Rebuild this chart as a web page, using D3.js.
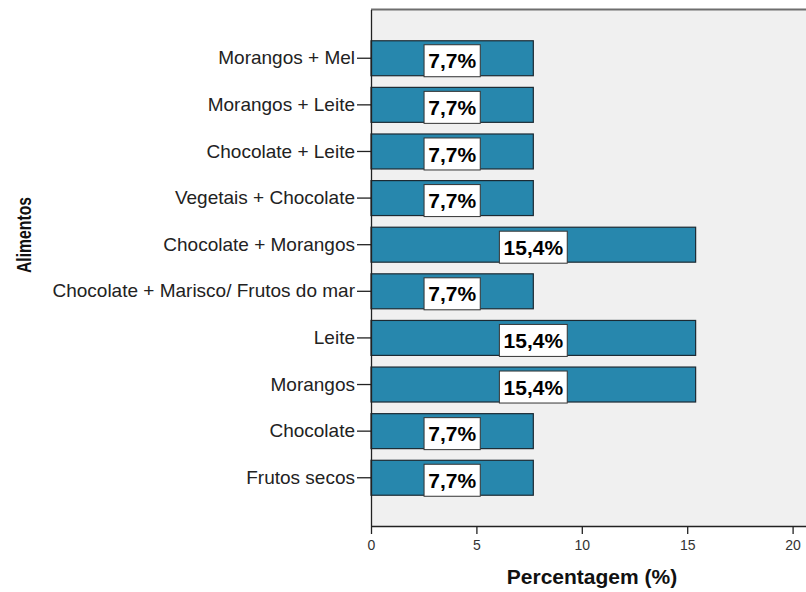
<!DOCTYPE html>
<html>
<head>
<meta charset="utf-8">
<script src="https://cdn.jsdelivr.net/npm/d3@7"></script>
<style>
  html, body { margin: 0; padding: 0; background: #fff; }
  svg { display: block; font-family: Arial, "Liberation Sans", sans-serif; }
</style>
</head>
<body>
<svg id="chart" width="806" height="592"></svg>
<script>
// Categories (top to bottom) and their percentages
const categories = [
  "Morangos + Mel",
  "Morangos + Leite",
  "Chocolate + Leite",
  "Vegetais + Chocolate",
  "Chocolate + Morangos",
  "Chocolate + Marisco/ Frutos do mar",
  "Leite",
  "Morangos",
  "Chocolate",
  "Frutos secos"
];
const percentages = [7.7, 7.7, 7.7, 7.7, 15.4, 7.7, 15.4, 15.4, 7.7, 7.7];
const xTicks = [0, 5, 10, 15, 20];
const xTitle = "Percentagem (%)";
const yTitle = "Alimentos";

const rows = categories.map((c, i) => ({ name: c, value: percentages[i] }));

const svg = d3.select("#chart");
const W = 806, H = 592;
const plot = { left: 371, top: 10, bottom: 526, right: 806 };

const ptLocale = d3.formatLocale({ decimal: ",", thousands: ".", grouping: [3], currency: ["", " €"] });
const fmtPct = v => ptLocale.format(".1f")(v) + "%";

const x = d3.scaleLinear().domain([0, 20]).range([plot.left, 792.6]);
const y = d3.scaleBand()
  .domain(categories)
  .range([plot.top, plot.bottom])
  .paddingInner(0.25)
  .paddingOuter(0.66);

// Plot background
svg.append("rect")
  .attr("x", plot.left).attr("y", plot.top)
  .attr("width", plot.right - plot.left + 2).attr("height", plot.bottom - plot.top)
  .attr("fill", "#f0f0f0");

// Top frame line
svg.append("line")
  .attr("x1", plot.left).attr("x2", W)
  .attr("y1", plot.top - 0.5).attr("y2", plot.top - 0.5)
  .attr("stroke", "#6e6e6e").attr("stroke-width", 2);

// Bars
svg.append("g").selectAll("rect")
  .data(rows)
  .join("rect")
  .attr("x", x(0))
  .attr("y", d => y(d.name))
  .attr("width", d => x(d.value) - x(0))
  .attr("height", y.bandwidth())
  .attr("fill", "#2787ad")
  .attr("stroke", "#1c2a33")
  .attr("stroke-width", 1.2);

// Value labels in white boxes
const lab = svg.append("g").selectAll("g")
  .data(rows)
  .join("g")
  .attr("transform", d => `translate(${(x(0) + x(d.value)) / 2},${y(d.name) + y.bandwidth() / 2 + 2.5})`);

lab.append("text")
  .attr("class", "vlab")
  .attr("text-anchor", "middle")
  .attr("dy", "0.36em")
  .attr("font-size", 21)
  .attr("font-weight", "bold")
  .attr("fill", "#000")
  .text(d => fmtPct(d.value));

lab.each(function () {
  const g = d3.select(this);
  const bb = g.select("text").node().getBBox();
  const padX = 4;
  g.insert("rect", "text")
    .attr("x", -bb.width / 2 - padX)
    .attr("y", -16)
    .attr("width", bb.width + 2 * padX)
    .attr("height", 32)
    .attr("fill", "#fff")
    .attr("stroke", "#333")
    .attr("stroke-width", 1);
});

// Y axis
const yAxis = svg.append("g")
  .attr("transform", `translate(${plot.left},0)`)
  .call(d3.axisLeft(y).tickSize(14).tickPadding(2));
yAxis.select(".domain").attr("stroke", "#222").attr("stroke-width", 1.3)
  .attr("d", `M0.5,${plot.top}V${plot.bottom}`);
yAxis.selectAll(".tick line").attr("stroke", "#222").attr("stroke-width", 1.3);
yAxis.selectAll(".tick text")
  .attr("font-size", 19)
  .attr("font-family", "Arial, 'Liberation Sans', sans-serif")
  .attr("fill", "#222");

// X axis
const xAxis = svg.append("g")
  .attr("transform", `translate(0,${plot.bottom})`)
  .call(d3.axisBottom(x).tickValues(xTicks).tickSize(8).tickPadding(6).tickFormat(d3.format("d")));
xAxis.select(".domain").attr("stroke", "#222").attr("stroke-width", 1.3)
  .attr("d", `M${plot.left},0.5H${W}`);
xAxis.selectAll(".tick line").attr("stroke", "#222").attr("stroke-width", 1.3);
xAxis.selectAll(".tick text")
  .attr("font-size", 14)
  .attr("font-family", "Arial, 'Liberation Sans', sans-serif")
  .attr("fill", "#333");

// Axis titles
svg.append("text")
  .attr("x", 592).attr("y", 584)
  .attr("text-anchor", "middle")
  .attr("font-size", 21)
  .attr("font-weight", "bold")
  .attr("fill", "#111")
  .text(xTitle);

svg.append("text")
  .attr("transform", "translate(31,235) rotate(-90)")
  .attr("text-anchor", "middle")
  .attr("font-size", 21)
  .attr("font-weight", "bold")
  .attr("fill", "#111")
  .attr("textLength", 76)
  .attr("lengthAdjust", "spacingAndGlyphs")
  .text(yTitle);
</script>
</body>
</html>
